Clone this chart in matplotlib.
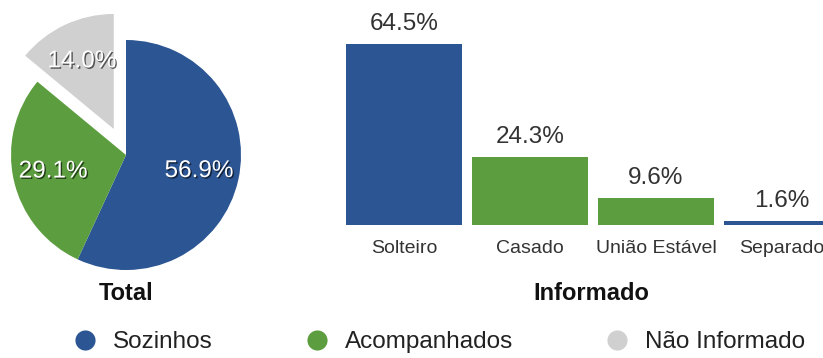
import matplotlib
matplotlib.use("Agg")
import matplotlib.pyplot as plt
import matplotlib.patheffects as pe
from matplotlib.lines import Line2D

plt.rcParams["font.family"] = ["Liberation Sans", "DejaVu Sans"]

# dados
grupos = ["Sozinhos", "Acompanhados", "Não Informado"]
total_pct = [56.9, 29.1, 14.0]
estado_civil = ["Solteiro", "Casado", "União Estável", "Separado"]
informado_pct = [64.5, 24.3, 9.6, 1.6]

AZUL = "#2c5593"
VERDE = "#5c9e3f"
CINZA = "#d0d0d0"
cores_pie = [AZUL, VERDE, CINZA]
cores_bar = [AZUL, VERDE, VERDE, AZUL]

W, H = 823, 358
fig = plt.figure(figsize=(W / 100, H / 100), dpi=100)

# --- pizza (Total) ---
R = 115  # raio em px
cx, cy = 126, H - 155
xl, yl_lo, yl_hi = 1.1, -1.15, 1.35
ax_pie = fig.add_axes([(cx - xl * R) / W, (cy + yl_lo * R) / H,
                       2 * xl * R / W, (yl_hi - yl_lo) * R / H])
wedges, _, autotexts = ax_pie.pie(
    total_pct, colors=cores_pie, startangle=90, counterclock=False,
    explode=[0, 0, 0.25], autopct="%.1f%%", pctdistance=0.65,
    wedgeprops=dict(linewidth=0),
    textprops=dict(color="white", fontsize=17.5))
for t in autotexts:
    t.set_path_effects([pe.withSimplePatchShadow(offset=(1, -1), alpha=0.6,
                                                 shadow_rgbFace="black")])
ax_pie.set_xlim(-xl, xl)
ax_pie.set_ylim(yl_lo, yl_hi)
ax_pie.set_aspect("equal")
ax_pie.axis("off")

# --- barras (Informado) ---
passo = 126  # px por categoria
base_y = H - 225
escala = 181 / 64.5  # px por ponto percentual
ylim_hi = 70
ax_bar = fig.add_axes([(404 - 0.5 * passo) / W, base_y / H,
                       4 * passo / W, ylim_hi * escala / H])
x = range(len(estado_civil))
barras = ax_bar.bar(x, informado_pct, width=0.92, color=cores_bar)
for b, v in zip(barras, informado_pct):
    ax_bar.annotate(f"{v:.1f}%", (b.get_x() + b.get_width() / 2, v),
                    xytext=(0, 9), textcoords="offset pixels",
                    ha="center", va="bottom", fontsize=17.5, color="#333333")
ax_bar.set_xlim(-0.5, 3.5)
ax_bar.set_ylim(0, ylim_hi)
ax_bar.set_xticks(list(x))
ax_bar.set_xticklabels(estado_civil, fontsize=14, color="#333333")
ax_bar.tick_params(axis="x", length=0, pad=11)
ax_bar.set_yticks([])
for s in ax_bar.spines.values():
    s.set_visible(False)

fig.text(126 / W, 1 - 294 / H, "Total", ha="center", va="center",
         fontsize=17, fontweight="bold", color="#111111")
fig.text(591 / W, 1 - 294 / H, "Informado", ha="center", va="center",
         fontsize=17, fontweight="bold", color="#111111")

# legenda
handles = [Line2D([], [], marker="o", linestyle="", markersize=14.5,
                  markerfacecolor=c, markeredgewidth=0) for c in cores_pie]
fig.legend(handles, grupos, loc="center left", bbox_to_anchor=(73 / W, 1 - 342 / H),
           ncol=3, frameon=False, fontsize=17.5, borderpad=0, borderaxespad=0,
           handlelength=0.97, handletextpad=0.67, columnspacing=3.8,
           labelcolor="#222222")

fig.savefig("out.png", dpi=100)
